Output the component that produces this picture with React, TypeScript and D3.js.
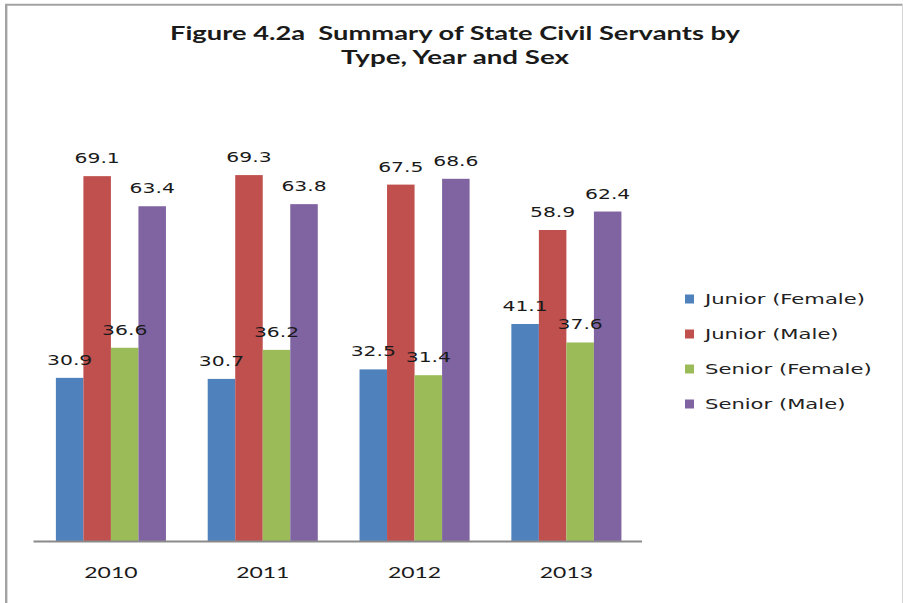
import React from "react";
import * as d3 from "d3";

const years = ["2010", "2011", "2012", "2013"];
const seriesNames = ["Junior (Female)", "Junior (Male)", "Senior (Female)", "Senior (Male)"];
const juniorFemale = [30.9, 30.7, 32.5, 41.1];
const juniorMale = [69.1, 69.3, 67.5, 58.9];
const seniorFemale = [36.6, 36.2, 31.4, 37.6];
const seniorMale = [63.4, 63.8, 68.6, 62.4];
const seriesValues = [juniorFemale, juniorMale, seniorFemale, seniorMale];
const colors = ["#4F81BD", "#C0504D", "#9BBB59", "#8064A2"];
const titleLines = ["Figure 4.2a  Summary of State Civil Servants by", "Type, Year and Sex"];

const W = 903;
const H = 603;
const SX = 1.53;

function Stretch({ x, y, anchor, children, size, family, weight, fill }: any) {
  return (
    <g transform={`translate(${x},${y}) scale(${SX},1)`}>
      <text
        x={0}
        y={0}
        textAnchor={anchor}
        fontSize={size}
        fontFamily={family}
        fontWeight={weight || "normal"}
        fill={fill || "#1a1a1a"}
      >
        {children}
      </text>
    </g>
  );
}

export default function App() {
  const x0 = d3
    .scaleBand<string>()
    .domain(years)
    .range([35, 642.3])
    .paddingInner(0.275)
    .paddingOuter(0.1375);
  const x1 = d3
    .scaleBand<string>()
    .domain(seriesNames)
    .range([0, x0.bandwidth()])
    .padding(0);
  const y = d3.scaleLinear().domain([0, 80]).range([541, 118.6]);

  const legendY = [299, 334, 369, 404];

  return (
    <svg
      width={W}
      height={H}
      style={{ position: "absolute", left: 0, top: 0, background: "#fff" }}
    >
      <rect x={0} y={0} width={W} height={H} fill="#fff" />
      {/* frame */}
      <line x1={5} y1={4.8} x2={903} y2={4.8} stroke="#a2a2a2" strokeWidth={2} />
      <line x1={6.2} y1={4} x2={6.2} y2={603} stroke="#a2a2a2" strokeWidth={2.4} />
      <line x1={902.5} y1={4} x2={902.5} y2={603} stroke="#d4d4d4" strokeWidth={1} />

      {/* title */}
      {titleLines.map((t, i) => (
        <text
          key={t}
          x={455}
          y={40 + i * 24}
          textAnchor="middle"
          fontFamily="Lato, 'Open Sans', sans-serif"
          fontWeight="bold"
          fontSize={19.5}
          fill="#1a1a1a"
          textLength={i === 0 ? 570 : 228}
          lengthAdjust="spacingAndGlyphs"
          style={{ whiteSpace: "pre" }}
        >
          {t}
        </text>
      ))}

      {/* bars */}
      {years.map((yr, i) => (
        <g key={yr} transform={`translate(${x0(yr)},0)`}>
          {seriesNames.map((s, j) => {
            const v = seriesValues[j][i];
            return (
              <rect
                key={s}
                x={x1(s)}
                y={y(v)}
                width={x1.bandwidth()}
                height={y(0) - y(v)}
                fill={colors[j]}
              />
            );
          })}
        </g>
      ))}

      {/* axis line */}
      <line x1={33.5} y1={541.5} x2={642} y2={541.5} stroke="#8a8a8a" strokeWidth={2} />

      {/* value labels */}
      {years.map((yr, i) =>
        seriesNames.map((s, j) => {
          const v = seriesValues[j][i];
          const cx = (x0(yr) as number) + (x1(s) as number) + x1.bandwidth() / 2;
          return (
            <Stretch
              key={yr + s}
              x={cx}
              y={y(v) - 13}
              anchor="middle"
              size={13.3}
              family="'DejaVu Sans', Verdana, sans-serif"
            >
              {v.toFixed(1)}
            </Stretch>
          );
        })
      )}

      {/* category labels */}
      {years.map((yr) => (
        <Stretch
          key={yr}
          x={(x0(yr) as number) + x0.bandwidth() / 2}
          y={578}
          anchor="middle"
          size={15}
          family="Lato, sans-serif"
        >
          {yr}
        </Stretch>
      ))}

      {/* legend */}
      {seriesNames.map((s, j) => (
        <g key={s}>
          <rect x={685} y={legendY[j] - 4.5} width={9} height={9} fill={colors[j]} />
          <Stretch
            x={705}
            y={legendY[j] + 5}
            anchor="start"
            size={13.8}
            family="'DejaVu Sans', Verdana, sans-serif"
            fill="#222"
          >
            {s}
          </Stretch>
        </g>
      ))}
    </svg>
  );
}
